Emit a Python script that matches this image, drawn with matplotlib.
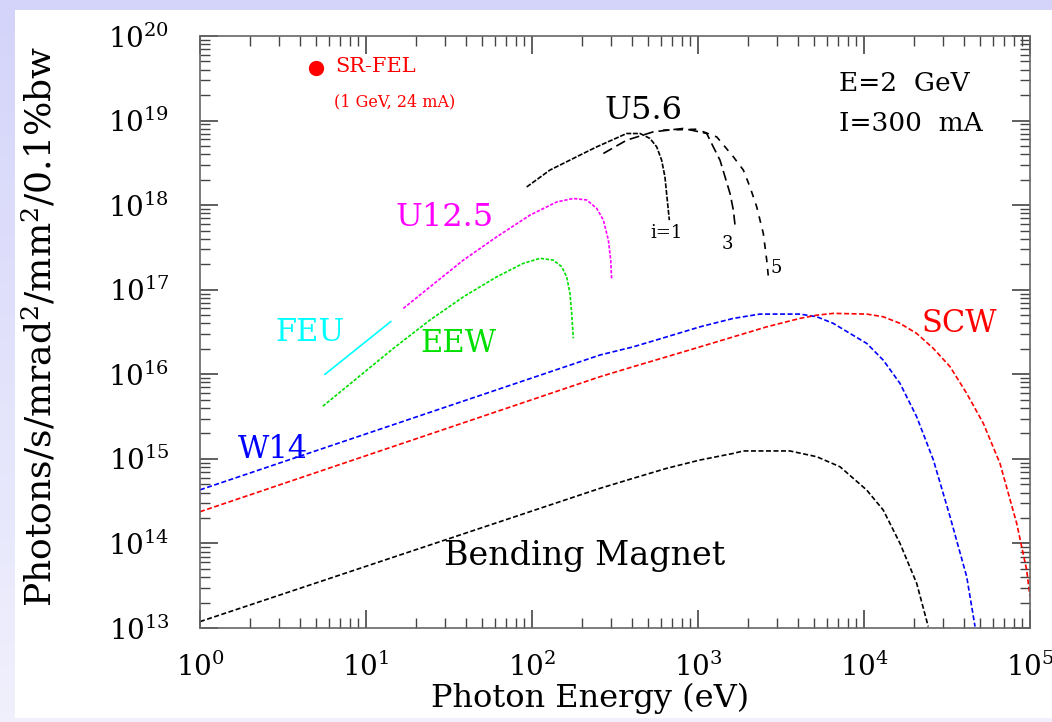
import numpy as np
import matplotlib.pyplot as plt
from matplotlib.patches import Rectangle
from matplotlib.colors import LinearSegmentedColormap
from matplotlib.ticker import LogLocator, LogFormatterMathtext, NullFormatter

plt.rcParams['font.family'] = ['DejaVu Serif']
plt.rcParams['mathtext.fontset'] = 'dejavuserif'

# photon energy (eV) and brightness
bm_e = [1, 256.8, 407, 648, 1028, 1632, 1875, 3581, 5190, 7166, 10380, 13060, 16480, 20760, 24380]
bm_b = [1.19e13, 4.48e14, 5.89e14, 7.73e14, 9.69e14, 1.16e15, 1.24e15, 1.24e15, 1.06e15, 8.07e14,
        4.28e14, 2.48e14, 1.0e14, 3.38e13, 1.04e13]

w14_e = [1, 256.8, 407, 648, 1028, 1632, 2362, 4115, 5190, 6530, 8235, 10380, 13060, 16480, 20760,
         26180, 32990, 41560, 46650]
w14_b = [4.3e14, 1.69e16, 2.11e16, 2.77e16, 3.64e16, 4.58e16, 5.15e16, 5.15e16, 4.79e16, 4.0e16,
         3.04e16, 2.32e16, 1.47e16, 7.8e15, 3.15e15, 9.7e14, 2.07e14, 4.04e13, 1.04e13]

scw_e = [1, 256.8, 407, 648, 1028, 1632, 2594, 4115, 5190, 6530, 10380, 13060, 16480, 20760, 26180,
         32990, 41560, 52330, 65930, 83120, 95500, 100000]
scw_b = [2.37e14, 9.36e15, 1.23e16, 1.61e16, 2.11e16, 2.77e16, 3.64e16, 4.58e16, 5.0e16, 5.25e16,
         5.15e16, 4.79e16, 4.0e16, 3.04e16, 2.02e16, 1.23e16, 5.94e15, 2.63e15, 8.85e14, 1.73e14,
         4.85e13, 2.34e13]

feu_e = [5.66, 14.1]
feu_b = [1.0e16, 4.2e16]

eew_e = [5.5, 14.6, 24.3, 38.6, 61.3, 88.6, 111.7, 134.4, 151, 161.8, 169.4, 173.4, 177.4]
eew_b = [4.2e15, 2.02e16, 4.38e16, 8.24e16, 1.42e17, 2.05e17, 2.35e17, 2.24e17, 1.87e17, 1.42e17,
         9.04e16, 5.25e16, 2.66e16]

u125_e = [16.78, 24.3, 38.6, 61.3, 97.2, 140.8, 177.4, 213.8, 245.5, 269.2, 288.5, 298, 302]
u125_b = [6.01e16, 1.08e17, 2.24e17, 4.22e17, 7.62e17, 1.09e18, 1.2e18, 1.15e18, 9.14e17, 6.65e17,
          3.85e17, 2.24e17, 1.3e17]

u56_1_e = [92.9, 128.3, 223.5, 245.5, 371.5, 447.7, 514, 564, 604, 632, 653, 672]
u56_1_b = [1.64e18, 2.6e18, 4.47e18, 4.89e18, 7.03e18, 7.03e18, 6.14e18, 4.89e18, 3.4e18, 2.16e18,
           1.15e18, 6.65e17]

u56_3_e = [269, 371.5, 538, 815, 1128, 1236, 1357, 1455, 1560, 1633, 1671]
u56_3_b = [4.08e18, 5.86e18, 7.36e18, 8.07e18, 7.05e18, 4.89e18, 3.4e18, 2.16e18, 1.37e18, 8.73e17,
           5.81e17]

u56_5_e = [615, 982, 1297, 1633, 1875, 2057, 2258, 2474, 2594, 2654]
u56_5_b = [7.7e18, 7.9e18, 6.41e18, 3.73e18, 2.6e18, 1.64e18, 9.55e17, 4.63e17, 2.24e17, 1.42e17]

fel_e = [5.0]
fel_b = [4.2e19]

fig = plt.figure(figsize=(10.52, 7.22), dpi=100)

# lavender slide background with white panel
bg = fig.add_axes([0, 0, 1, 1], zorder=-10)
cmap = LinearSegmentedColormap.from_list('bg', ['#d4d4fa', '#f0f0fd'])
bg.imshow(np.linspace(0, 1, 64)[:, None], aspect='auto', cmap=cmap, extent=[0, 1, 0, 1])
bg.add_patch(Rectangle((15 / 1052, 4 / 722), 1, 708 / 722, facecolor='white', edgecolor='none'))
bg.set_xlim(0, 1)
bg.set_ylim(0, 1)
bg.axis('off')

ax = fig.add_axes([200 / 1052, 94 / 722, 830 / 1052, 592 / 722])
ax.set_xscale('log')
ax.set_yscale('log')
ax.set_xlim(1, 1e5)
ax.set_ylim(1e13, 1e20)

lw = 1.2
ax.plot(bm_e, bm_b, color='black', lw=lw, ls=(0, (3, 1.5)))
ax.plot(w14_e, w14_b, color='blue', lw=lw, ls=(0, (3, 1.5)))
ax.plot(scw_e, scw_b, color='red', lw=lw, ls=(0, (3, 1.5)))
ax.plot(feu_e, feu_b, color='cyan', lw=lw)
ax.plot(eew_e, eew_b, color='#00e000', lw=lw, ls=(0, (2, 1)))
ax.plot(u125_e, u125_b, color='magenta', lw=lw, ls=(0, (2, 1)))
ax.plot(u56_1_e, u56_1_b, color='black', lw=lw, ls=(0, (3, 1)))
ax.plot(u56_3_e, u56_3_b, color='black', lw=lw, ls=(0, (6, 3)))
ax.plot(u56_5_e, u56_5_b, color='black', lw=lw, ls=(0, (4, 4)))
ax.plot(fel_e, fel_b, 'o', color='red', markersize=10)

# labels
ax.text(6.5, 4.3e19, 'SR-FEL', color='red', fontsize=15, va='center')
ax.text(6.4, 1.65e19, '(1 GeV, 24 mA)', color='red', fontsize=11.5, va='center')
ax.text(0.77, 0.92, 'E=2  GeV', transform=ax.transAxes, fontsize=19, va='center')
ax.text(0.77, 0.852, 'I=300  mA', transform=ax.transAxes, fontsize=19, va='center')
ax.text(275, 1.3e19, 'U5.6', fontsize=23, va='center')
ax.text(514, 4.7e17, 'i=1', fontsize=13, va='center')
ax.text(1395, 3.5e17, '3', fontsize=13, va='center')
ax.text(2715, 1.8e17, '5', fontsize=13, va='center')
ax.text(15.0, 7.1e17, 'U12.5', color='magenta', fontsize=23, va='center')
ax.text(2.83, 3.1e16, 'FEU', color='cyan', fontsize=22, va='center')
ax.text(21.1, 2.3e16, 'EEW', color='#00e000', fontsize=22, va='center')
ax.text(1.7, 1.3e15, 'W14', color='blue', fontsize=22, va='center')
ax.text(29.5, 7.1e13, 'Bending Magnet', fontsize=24, va='center')
ax.text(22300, 5.3e16 * 0.75, 'SCW', color='red', fontsize=22, va='center')

ax.xaxis.set_major_locator(LogLocator(base=10, numticks=10))
ax.yaxis.set_major_locator(LogLocator(base=10, numticks=10))
ax.xaxis.set_minor_locator(LogLocator(base=10, subs=range(2, 10), numticks=20))
ax.yaxis.set_minor_locator(LogLocator(base=10, subs=range(2, 10), numticks=20))
ax.xaxis.set_major_formatter(LogFormatterMathtext())
ax.yaxis.set_major_formatter(LogFormatterMathtext())
ax.xaxis.set_minor_formatter(NullFormatter())
ax.yaxis.set_minor_formatter(NullFormatter())

ax.tick_params(which='both', direction='in', top=True, right=True, color='#444444', labelsize=20)
ax.tick_params(which='major', length=13, width=1.2)
ax.tick_params(which='minor', length=7, width=1.0)
ax.tick_params(axis='x', which='major', pad=18)
ax.tick_params(axis='y', which='major', pad=22)
for s in ax.spines.values():
    s.set_color('#666666')
    s.set_linewidth(1.2)

ax.set_xlabel('Photon Energy (eV)', fontsize=23)
ax.set_ylabel('Photons/s/mrad$^2$/mm$^2$/0.1%bw', fontsize=26)
ax.xaxis.set_label_coords(0.47, -0.093)
ax.yaxis.set_label_coords(-0.17, 0.51)

fig.savefig('out.png', dpi=100)
